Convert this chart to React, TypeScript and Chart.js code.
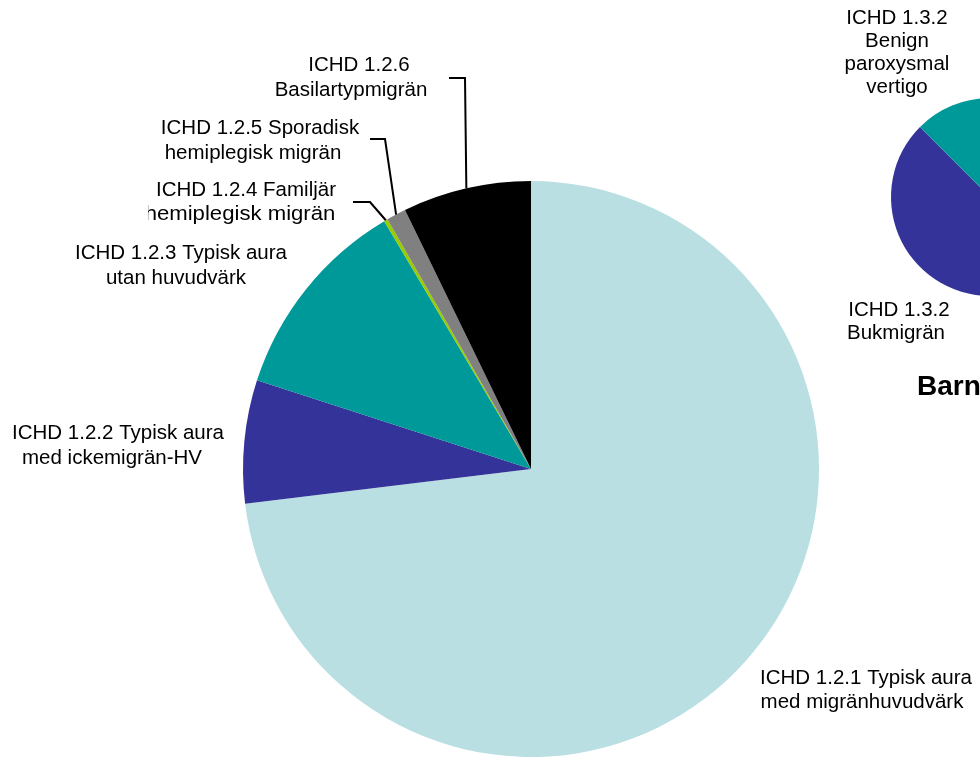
import React, { useEffect, useRef } from "react";
import { Chart, registerables } from "chart.js";

Chart.register(...registerables);

// Migrän med aura (vuxna), andel per diagnos i procent
const auraCategories: string[][] = [
  ["ICHD 1.2.1 Typisk aura", "med migränhuvudvärk"],
  ["ICHD 1.2.2 Typisk aura", "med ickemigrän-HV"],
  ["ICHD 1.2.3 Typisk aura", "utan huvudvärk"],
  ["ICHD 1.2.4 Familjär", "hemiplegisk migrän"],
  ["ICHD 1.2.5 Sporadisk", "hemiplegisk migrän"],
  ["ICHD 1.2.6", "Basilartypmigrän"],
];
const auraValues: number[] = [73.0, 6.9, 11.5, 0.2, 1.1, 7.2];
const auraColors: string[] = ["#B9DFE2", "#333399", "#009999", "#99CC00", "#808080", "#000000"];

// Periodiska syndrom hos barn
const childCategories: string[][] = [
  ["ICHD 1.3.1", "Cyklisk kräkning"],
  ["ICHD 1.3.2", "Bukmigrän"],
  ["ICHD 1.3.2", "Benign", "paroxysmal", "vertigo"],
];
const childValues: number[] = [50, 37.5, 12.5];
const childColors: string[] = ["#B9DFE2", "#333399", "#009999"];
const childTitle = "Barn";

const FONT = "20.5px 'Liberation Sans', Arial, Helvetica, sans-serif";
const TITLE_FONT = "bold 28px 'Liberation Sans', Arial, Helvetica, sans-serif";

type LinePos = [number, number] | [number, number, number]; // centre x, baseline y, optional horizontal stretch

type Callout = {
  index: number;
  at: LinePos[];
  leader?: [number, number][]; // elbow points, the last segment runs to the slice edge
  clipLeft?: number;
};

// Placement of the slice labels on the large pie
const auraCallouts: Callout[] = [
  { index: 0, at: [[866, 684], [862, 708]] },
  { index: 1, at: [[118, 439], [112, 464]] },
  { index: 2, at: [[181, 259], [176, 284]] },
  { index: 3, at: [[246, 196], [240, 220, 1.08]], leader: [[353, 202], [370, 202]], clipLeft: 148 },
  { index: 4, at: [[260, 134], [253, 159]], leader: [[370, 139], [385, 139]] },
  { index: 5, at: [[359, 71], [351, 96]], leader: [[449, 78], [465, 78]] },
];

// Placement of the slice labels on the small pie
const childCallouts: Callout[] = [
  { index: 1, at: [[899, 316], [896, 339]] },
  { index: 2, at: [[897, 24], [897, 47], [897, 70], [897, 93]] },
];

const calloutPlugin = {
  id: "callouts",
  afterDatasetsDraw(chart: any, _args: any, opts: any) {
    const ctx: CanvasRenderingContext2D = chart.ctx;
    const meta = chart.getDatasetMeta(0);
    const labels = chart.data.labels as string[][];
    const items: Callout[] = opts.items || [];
    ctx.save();
    ctx.font = FONT;
    ctx.fillStyle = "#000";
    ctx.strokeStyle = "#000";
    ctx.lineWidth = 2;
    ctx.textAlign = "center";
    ctx.textBaseline = "alphabetic";
    for (const item of items) {
      const arc = meta.data[item.index];
      if (item.leader && arc) {
        const p = arc.getProps(["x", "y", "startAngle", "endAngle", "outerRadius"], true);
        const mid = (p.startAngle + p.endAngle) / 2;
        const ex = p.x + Math.cos(mid) * p.outerRadius;
        const ey = p.y + Math.sin(mid) * p.outerRadius;
        ctx.beginPath();
        ctx.moveTo(item.leader[0][0], item.leader[0][1]);
        for (let i = 1; i < item.leader.length; i++) ctx.lineTo(item.leader[i][0], item.leader[i][1]);
        ctx.lineTo(ex, ey);
        ctx.stroke();
      }
      ctx.save();
      if (item.clipLeft !== undefined) {
        ctx.beginPath();
        ctx.rect(item.clipLeft, 0, chart.width, chart.height);
        ctx.clip();
      }
      const lines = labels[item.index];
      lines.forEach((line, i) => {
        const pos = item.at[i];
        if (!pos) return;
        const stretch = pos[2] ?? 1;
        ctx.save();
        ctx.translate(pos[0], pos[1]);
        ctx.scale(stretch, 1);
        ctx.fillText(line, 0, 0);
        ctx.restore();
      });
      ctx.restore();
    }
    if (opts.title) {
      ctx.font = TITLE_FONT;
      ctx.textAlign = "left";
      ctx.fillText(opts.title.text, opts.title.x, opts.title.y);
    }
    ctx.restore();
  },
};

function PieCanvas(props: {
  width: number;
  height: number;
  labels: string[][];
  values: number[];
  colors: string[];
  padding: { left: number; top: number; right: number; bottom: number };
  callouts: Callout[];
  title?: { text: string; x: number; y: number };
}) {
  const ref = useRef<HTMLCanvasElement | null>(null);
  useEffect(() => {
    if (!ref.current) return;
    const chart = new Chart(ref.current, {
      type: "pie",
      data: {
        labels: props.labels as any,
        datasets: [
          {
            data: props.values,
            backgroundColor: props.colors,
            borderWidth: 0,
          },
        ],
      },
      options: {
        responsive: false,
        maintainAspectRatio: false,
        animation: false,
        devicePixelRatio: 1,
        layout: { padding: props.padding },
        events: [],
        plugins: {
          legend: { display: false },
          tooltip: { enabled: false },
          callouts: { items: props.callouts, title: props.title },
        } as any,
      },
      plugins: [calloutPlugin],
    });
    return () => chart.destroy();
  }, []);
  return (
    <canvas
      ref={ref}
      width={props.width}
      height={props.height}
      style={{ position: "absolute", left: 0, top: 0, width: props.width, height: props.height }}
    />
  );
}

export default function App() {
  return (
    <div
      style={{
        position: "absolute",
        left: 0,
        top: 0,
        width: 980,
        height: 758,
        overflow: "hidden",
        background: "#fff",
      }}
    >
      <PieCanvas
        width={980}
        height={758}
        labels={auraCategories}
        values={auraValues}
        colors={auraColors}
        padding={{ left: 243, top: 181, right: 161, bottom: 1 }}
        callouts={auraCallouts}
      />
      <PieCanvas
        width={1160}
        height={758}
        labels={childCategories}
        values={childValues}
        colors={childColors}
        padding={{ left: 891, top: 98, right: 71, bottom: 462 }}
        callouts={childCallouts}
        title={{ text: childTitle, x: 917, y: 395 }}
      />
    </div>
  );
}
